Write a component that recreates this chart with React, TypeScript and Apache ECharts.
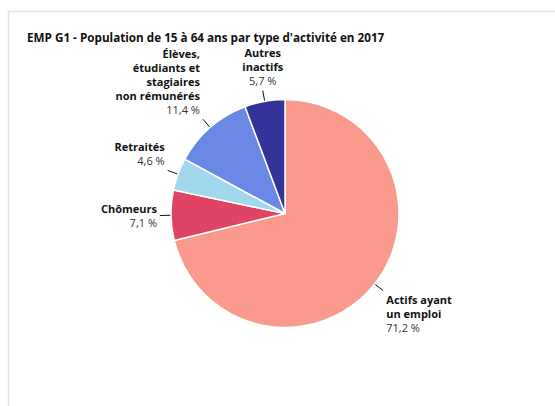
import React, { useEffect, useRef } from "react";
import * as echarts from "echarts";

const titleText = "EMP G1 - Population de 15 à 64 ans par type d'activité en 2017";
const categories = [
  "Actifs ayant\nun emploi",
  "Chômeurs",
  "Retraités",
  "Élèves,\nétudiants et\nstagiaires\nnon rémunérés",
  "Autres\ninactifs",
];
const values = [71.2, 7.1, 4.6, 11.4, 5.7];
const colors = ["#F99A8D", "#E04464", "#A2D8EE", "#6A89E6", "#343399"];

export default function App() {
  const ref = useRef<HTMLDivElement>(null);
  useEffect(() => {
    if (!ref.current) return;
    const chart = echarts.init(ref.current, undefined, { renderer: "svg" });
    const gap = 3;
    chart.setOption({
      animation: false,
      backgroundColor: "#ffffff",
      title: {
        text: titleText,
        left: 22,
        top: 24,
        textStyle: {
          fontFamily: "Open Sans",
          fontWeight: "bold",
          fontSize: 11.7,
          color: "#111111",
          lineHeight: 16,
        },
      },
      graphic: [
        {
          type: "line",
          shape: { x1: 8, y1: 11.5, x2: 555, y2: 11.5 },
          style: { stroke: "#e4e4e4", lineWidth: 1.5 },
          silent: true,
        },
        {
          type: "line",
          shape: { x1: 8.5, y1: 11, x2: 8.5, y2: 406 },
          style: { stroke: "#e4e4e4", lineWidth: 1.5 },
          silent: true,
        },
      ],
      series: [
        {
          type: "pie",
          center: [285, 213.5],
          radius: 114,
          startAngle: 90,
          clockwise: true,
          avoidLabelOverlap: false,
          itemStyle: { borderColor: "#ffffff", borderWidth: 1.5 },
          label: {
            show: true,
            position: "outside",
            fontFamily: "Open Sans",
            formatter: (p: any) => {
              const lines = String(p.name)
                .split("\n")
                .map((l: string) => `{b|${l}}`)
                .join("\n");
              const v = Number(p.value).toFixed(1).replace(".", ",") + " %";
              return `${lines}\n{v|${v}}`;
            },
            rich: {
              b: {
                fontFamily: "Open Sans",
                fontWeight: "bold",
                fontSize: 11,
                color: "#111111",
                lineHeight: 14,
              },
              v: {
                fontFamily: "Open Sans",
                fontSize: 11,
                color: "#333333",
                lineHeight: 14,
              },
            },
          },
          labelLine: {
            show: true,
            length: 11,
            length2: 0,
            lineStyle: { color: "#111111", width: 1 },
          },
          labelLayout: (params: any) => {
            const pts = params.labelLinePoints;
            if (!pts) return {};
            const p0 = pts[0];
            const p1 = pts[1];
            let dx = p1[0] - p0[0];
            let dy = p1[1] - p0[1];
            const len = Math.sqrt(dx * dx + dy * dy) || 1;
            dx /= len;
            dy /= len;
            let align = "center";
            let x = p1[0];
            if (dx > 0.3) {
              align = "left";
              x = p1[0] + gap;
            } else if (dx < -0.3) {
              align = "right";
              x = p1[0] - gap;
            }
            let verticalAlign = "middle";
            let y = p1[1];
            if (dy > 0.25) {
              verticalAlign = "top";
              y = p1[1] + gap - 1;
            } else if (dy < -0.25) {
              verticalAlign = "bottom";
              y = p1[1] - gap;
            }
            return {
              x,
              y,
              align,
              verticalAlign,
              labelLinePoints: pts,
            };
          },
          data: categories.map((c, i) => ({
            name: c,
            value: values[i],
            itemStyle: { color: colors[i] },
          })),
        },
      ],
    });
    return () => chart.dispose();
  }, []);
  return (
    <div
      ref={ref}
      style={{ position: "fixed", left: 0, top: 0, width: 555, height: 406 }}
    />
  );
}
